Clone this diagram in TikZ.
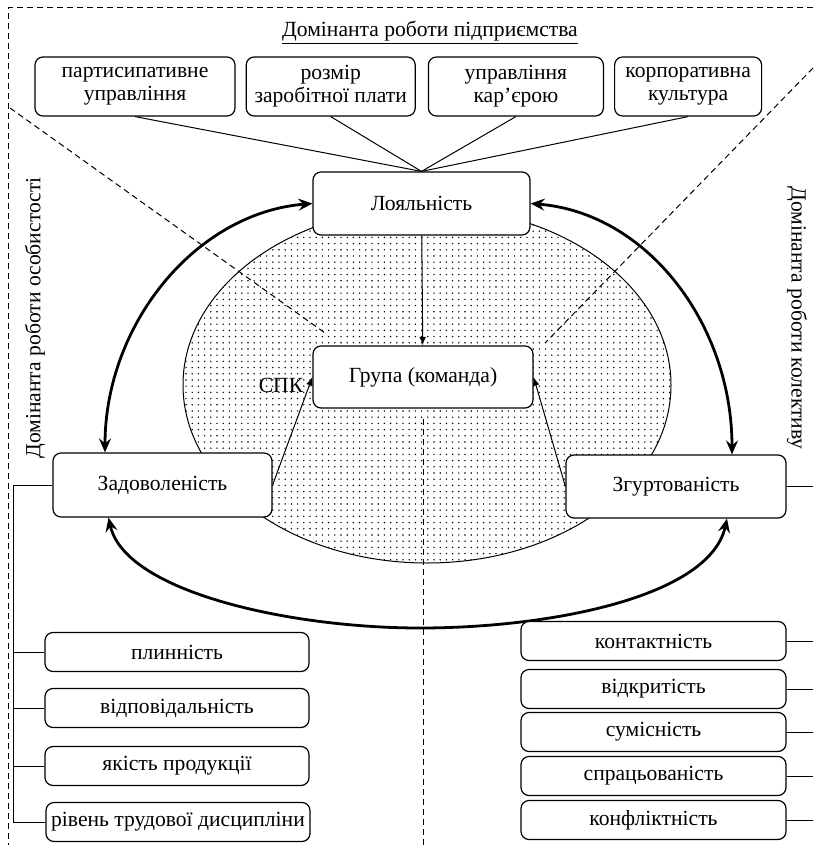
\documentclass[tikz,border=0pt]{standalone}
\usepackage{fontspec}
\setmainfont{Liberation Serif}
\usetikzlibrary{shapes, arrows, arrows.meta, positioning, patterns}
\pgfdeclarepatternformonly{sparsedots}{\pgfqpoint{-1pt}{-1pt}}{\pgfqpoint{1pt}{1pt}}{\pgfqpoint{3.1pt}{3.1pt}}%
{\pgfpathcircle{\pgfqpoint{0pt}{0pt}}{0.4pt}\pgfusepath{fill}}
\tikzstyle{rect} = [draw, rectangle, rounded corners=4pt, fill=white, line width=0.6pt, inner sep=1pt, align=center]
\tikzstyle{topbox} = [rect, minimum height=29.5pt]
\tikzstyle{mainbox} = [rect, minimum width=109.5pt, minimum height=31.5pt]
\tikzstyle{listbox} = [rect, minimum width=132.5pt, minimum height=19.5pt]
\tikzstyle{thinline} = [draw, line width=0.5pt]
\tikzstyle{line} = [draw, -latex, line width=0.5pt]
\tikzstyle{bigline} = [draw, {Stealth[length=7pt, width=6pt, inset=2.5pt]}-{Stealth[length=7pt, width=6pt, inset=2.5pt]}, line width=1.4pt]
\tikzstyle{dline} = [draw, dash pattern=on 3pt off 2pt, line width=0.5pt]

\begin{document}
\begin{tikzpicture}[x=0.5pt, y=-0.5pt, font=\fontsize{10.8}{11.5}\selectfont]
	\useasboundingbox (0,0) rectangle (813,845);
	% рамка
	\coordinate (tl) at (8,8);
	\coordinate (tr) at (813,8);
	\coordinate (bl) at (8,845);
	\path [dline] (tr) -- (tl) -- (bl);
	
	% овал групи
	\node [draw, ellipse, pattern=sparsedots, line width=0.5pt, minimum width=244pt, minimum height=178pt] (oval) at (427,385) {};
	
	% діагоналі
	\coordinate (dl1) at (10,108);
	\coordinate (dl2) at (325,333);
	\coordinate (dr1) at (813,68);
	\coordinate (dr2) at (545,343);
	\coordinate (vb) at (422,845);
	\path [dline] (dl1) -- (dl2);
	\path [dline] (dr1) -- (dr2);
	
	\node at (430,33) (title) {\underline{Домінанта роботи підприємства}};
	\node [rotate=90] at (35,318) (lpers) {Домінанта роботи особистості};
	\node [rotate=-90] at (797,318) (lcoll) {Домінанта роботи колективу};
	
	\node [topbox, minimum width=100pt] at (135,86.5) (tb1) {партисипативне\\управління};
	\node [topbox, minimum width=84.5pt, right=5pt of tb1] (tb2) {розмір\\заробітної плати};
	\node [topbox, minimum width=87.5pt, right=6pt of tb2] (tb3) {управління\\кар’єрою};
	\node [topbox, minimum width=73.5pt, right=5pt of tb3] (tb4) {корпоративна\\культура};
	
	\node [mainbox, minimum width=108.5pt] at (421.5,203.5) (loy) {Лояльність};
	\node [mainbox, minimum width=110pt, minimum height=31pt] at (423,377) (grp) {Група (команда)};
	\node [mainbox, minimum height=32pt] at (162.5,485) (zad) {Задоволеність};
	\node [mainbox, minimum width=110pt] at (676,486.5) (zgu) {Згуртованість};
	\node at (281,385) (spk) {СПК};
	
	\path [dline] ([yshift=-5pt]grp.south) -- (grp.south |- vb);
	
	\path [thinline] (tb1.south) -- (loy.north);
	\path [thinline] (tb2.south) -- (loy.north);
	\path [thinline] (tb3.south) -- (loy.north);
	\path [thinline] (tb4.south) -- (loy.north);
	
	\path [line] (loy) -- (grp);
	\path [line] (zad.east) -- (grp.west);
	\path [line] (zgu.west) -- (grp.east);
	
	\coordinate (bot) at (420,628);
	\path [bigline] ([xshift=-28.75pt]zad.north) .. controls (105,325) and (195,213) .. (loy.west);
	\path [bigline] (loy.east) .. controls (648,213) and (732,325) .. ([xshift=28pt]zgu.north);
	\path [bigline] ([xshift=-27pt]zad.south) .. controls (125,592) and (290,628) .. (bot) .. controls (550,628) and (710,597) .. ([xshift=25.5pt]zgu.south);
	
	% показники особистості
	\node [listbox, minimum width=132pt] at (177,652) (l1) {плинність};
	\node [listbox, minimum width=132pt] at (177,708) (l2) {відповідальність};
	\node [listbox, minimum width=132pt] at (177,766) (l3) {якість продукції};
	\node [listbox, minimum width=132pt] at (178,822) (l4) {рівень трудової дисципліни};
	\coordinate (lbus) at (13,0);
	\path [thinline] (zad.west) -- (zad.west -| lbus) |- (l4.west);
	\path [thinline] (l1.west) -- (l1.west -| lbus);
	\path [thinline] (l2.west) -- (l2.west -| lbus);
	\path [thinline] (l3.west) -- (l3.west -| lbus);
	
	% показники колективу
	\node [listbox] at (653.5,641) (r1) {контактність};
	\node [listbox] at (653.5,689) (r2) {відкритість};
	\node [listbox] at (653.5,732) (r3) {сумісність};
	\node [listbox] at (653.5,776) (r4) {спрацьованість};
	\node [listbox] at (653.5,820) (r5) {конфліктність};
	\coordinate (rbus) at (813,0);
	\path [thinline] (zgu.east) -- (zgu.east -| rbus);
	\path [thinline] (r1.east) -- (r1.east -| rbus);
	\path [thinline] (r2.east) -- (r2.east -| rbus);
	\path [thinline] (r3.east) -- (r3.east -| rbus);
	\path [thinline] (r4.east) -- (r4.east -| rbus);
	\path [thinline] (r5.east) -- (r5.east -| rbus);
\end{tikzpicture}
\end{document}
